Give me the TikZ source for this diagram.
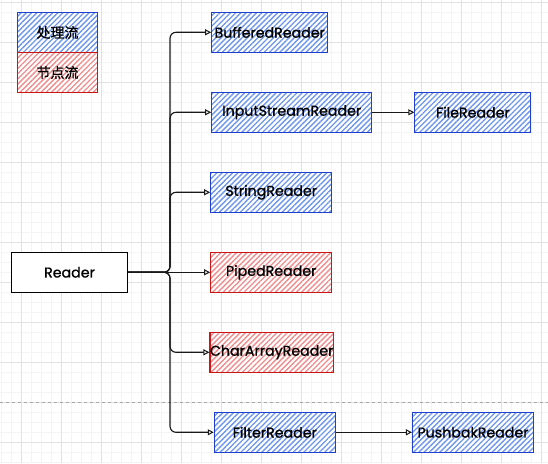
\documentclass[tikz,border=0pt]{standalone}
\usepackage{fontspec}
\setmainfont{Poppins}
\newfontfamily\labelfont{Poppins}[FakeBold=0.9]
\newfontfamily\cjk{Noto Sans CJK SC}[FakeBold=0.6]
\usetikzlibrary{patterns.meta,arrows.meta}
\definecolor{bluehatch}{HTML}{6E96EE}
\definecolor{blueline}{HTML}{1E3FD0}
\definecolor{redhatch}{HTML}{F08C8C}
\definecolor{redline}{HTML}{CC1515}
\definecolor{majorgrid}{HTML}{E2E2E2}
\definecolor{minorgrid}{HTML}{F4F4F4}
\tikzset{
  box/.style={draw, line width=1.1pt, minimum height=40pt, inner sep=0pt, font=\labelfont\fontsize{14.2}{16}\selectfont, text=black},
  procbox/.style={box, draw=blueline, preaction={fill=white}, pattern={Lines[angle=45,distance=3.7pt,line width=1.35pt]}, pattern color=bluehatch},
  nodebox/.style={box, draw=redline, preaction={fill=white}, pattern={Lines[angle=45,distance=3.7pt,line width=1.35pt]}, pattern color=redhatch},
  plainbox/.style={box, draw=black, fill=white},
  conn/.style={draw=black!90, line width=1.15pt, rounded corners=6pt, -{Triangle[open,length=6pt,width=6pt,line width=1pt]}},
  legendtext/.style={font=\cjk\fontsize{14}{16}\selectfont}
}
\begin{document}
\begin{tikzpicture}[x=1pt,y=-1pt]
\useasboundingbox (0,0) rectangle (548,463);
\fill[white] (0,0) rectangle (548,463);
% grid
\foreach \x in {1.5,11.5,...,548} \draw[minorgrid, line width=0.8pt] (\x,0) -- (\x,463);
\foreach \y in {2.5,12.5,...,463} \draw[minorgrid, line width=0.8pt] (0,\y) -- (548,\y);
\foreach \x in {21.5,61.5,...,548} \draw[majorgrid, line width=0.8pt] (\x,0) -- (\x,463);
\foreach \y in {2.5,42.5,...,463} \draw[majorgrid, line width=0.8pt] (0,\y) -- (548,\y);
\draw[black!35, line width=0.8pt, dash pattern=on 3pt off 3pt] (0,402.5) -- (548,402.5);
% legend
\node[procbox, minimum width=80pt, legendtext] (leg1) at (57.5,32.5) {处理流};
\node[nodebox, minimum width=80pt, legendtext] (leg2) at (57.5,72.5) {节点流};
% nodes
\node[plainbox, minimum width=116pt] (reader) at (69.5,272.3) {Reader};
\node[procbox, minimum width=116pt] (buf) at (269.7,32.3) {BufferedReader};
\node[procbox, minimum width=160pt] (isr) at (291.7,112.3) {InputStreamReader};
\node[procbox, minimum width=116pt] (file) at (472.9,112.3) {FileReader};
\node[procbox, minimum width=121pt] (str) at (271.2,192.3) {StringReader};
\node[nodebox, minimum width=121pt] (piped) at (271.2,272.3) {PipedReader};
\node[nodebox, minimum width=121pt] (char) at (271.7,352.3) {CharArrayReader};
\node[procbox, minimum width=121pt] (filter) at (274.8,432.3) {FilterReader};
\node[procbox, minimum width=121pt] (push) at (473,432.3) {PushbakReader};
% connectors
\coordinate (tr) at (170,272.3);
\draw[conn] (reader.east) -- (tr) |- (buf.west);
\draw[conn] (reader.east) -- (tr) |- (isr.west);
\draw[conn] (reader.east) -- (tr) |- (str.west);
\draw[conn] (reader.east) -- (piped.west);
\draw[conn] (reader.east) -- (tr) |- (char.west);
\draw[conn] (reader.east) -- (tr) |- (filter.west);
\draw[conn] (isr.east) -- (file.west);
\draw[conn] (filter.east) -- (push.west);
\end{tikzpicture}
\end{document}
